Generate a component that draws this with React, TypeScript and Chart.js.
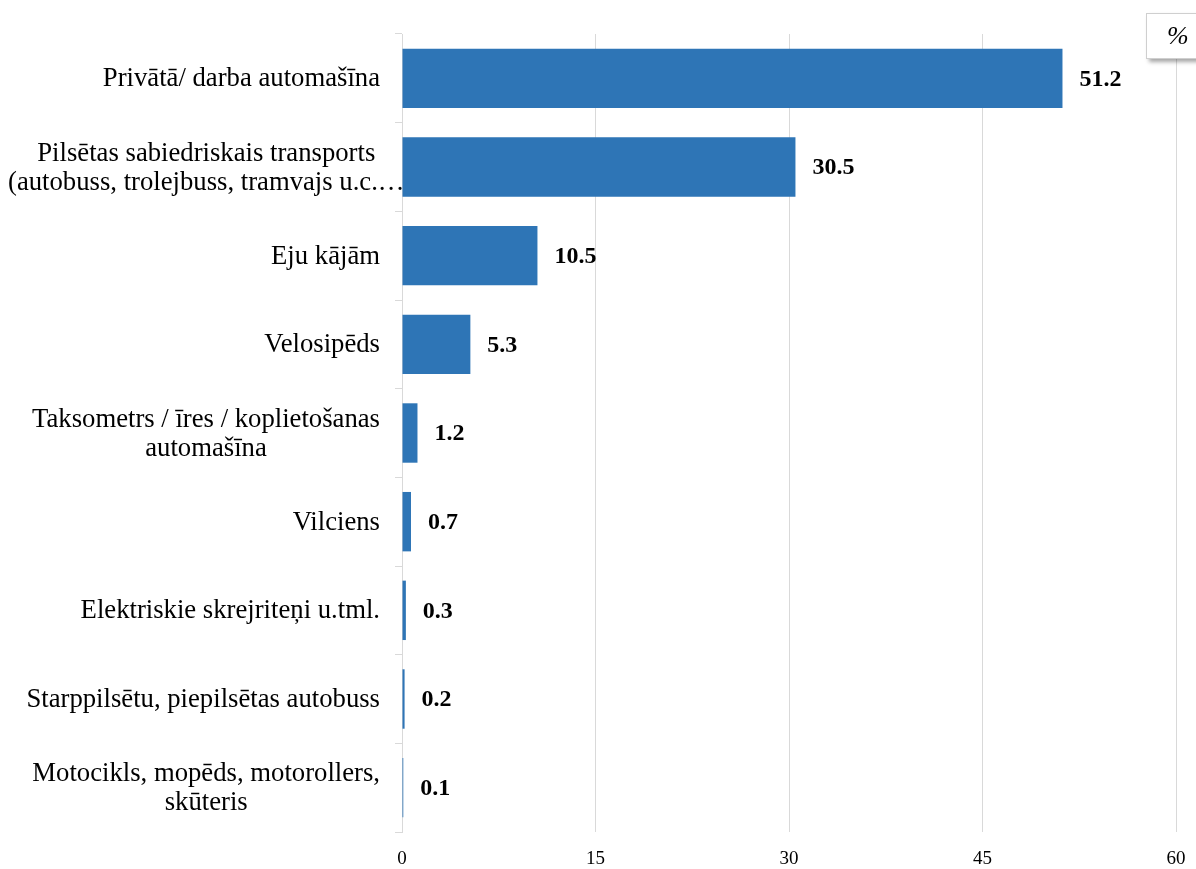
import React, { useEffect, useRef } from "react";
import { Chart, registerables } from "chart.js";

Chart.register(...registerables);

const categories: string[][] = [
  ["Privātā/ darba automašīna"],
  ["Pilsētas sabiedriskais transports", "(autobuss, trolejbuss, tramvajs u.c.…"],
  ["Eju kājām"],
  ["Velosipēds"],
  ["Taksometrs / īres / koplietošanas", "automašīna"],
  ["Vilciens"],
  ["Elektriskie skrejriteņi u.tml."],
  ["Starppilsētu, piepilsētas autobuss"],
  ["Motocikls, mopēds, motorollers,", "skūteris"],
];
const values = [51.2, 30.5, 10.5, 5.3, 1.2, 0.7, 0.3, 0.2, 0.1];
const xTicks = [0, 15, 30, 45, 60];

const SERIF = "'Liberation Serif', 'Times New Roman', serif";

const valueLabels = {
  id: "valueLabels",
  afterDatasetsDraw(chart: any) {
    const ctx = chart.ctx;
    const meta = chart.getDatasetMeta(0);
    ctx.save();
    ctx.font = `bold 24px ${SERIF}`;
    ctx.fillStyle = "#000";
    ctx.textAlign = "left";
    ctx.textBaseline = "middle";
    meta.data.forEach((bar: any, i: number) => {
      ctx.fillText(values[i].toFixed(1), bar.x + 17, bar.y + 1);
    });
    ctx.restore();
  },
};

const categoryLabels = {
  id: "categoryLabels",
  afterDraw(chart: any) {
    const ctx = chart.ctx;
    const yScale = chart.scales.y;
    const lineH = 29;
    const rightEdge = 380;
    const leftLimit = 8;
    ctx.save();
    ctx.font = `26.7px ${SERIF}`;
    ctx.fillStyle = "#000";
    ctx.textAlign = "center";
    ctx.textBaseline = "middle";
    categories.forEach((lines, i) => {
      const y = yScale.getPixelForValue(i);
      const w = Math.max(...lines.map((l) => ctx.measureText(l).width));
      const cx = Math.max(rightEdge - w / 2, leftLimit + w / 2);
      const y0 = y - ((lines.length - 1) * lineH) / 2;
      lines.forEach((l, k) => ctx.fillText(l, cx, y0 + k * lineH + 1));
    });
    ctx.restore();
  },
};

export default function App() {
  const ref = useRef<HTMLCanvasElement>(null);
  useEffect(() => {
    if (!ref.current) return;
    const chart = new Chart(ref.current, {
      type: "bar",
      data: {
        labels: categories.map((c) => c.join(" ")),
        datasets: [
          {
            data: values,
            backgroundColor: "#2E75B6",
            categoryPercentage: 1,
            barPercentage: 0.67,
          },
        ],
      },
      options: {
        indexAxis: "y",
        animation: false,
        responsive: false,
        maintainAspectRatio: false,
        layout: { padding: { top: 34, right: 20, left: 0, bottom: 0 } },
        plugins: { legend: { display: false }, tooltip: { enabled: false } },
        scales: {
          x: {
            min: 0,
            max: 60,
            afterBuildTicks: (axis: any) => {
              axis.ticks = xTicks.map((v) => ({ value: v }));
            },
            grid: { color: "#d9d9d9", drawTicks: false, lineWidth: 1 },
            border: { display: false },
            ticks: {
              color: "#000",
              font: { family: SERIF, size: 19 },
              padding: 16,
              maxRotation: 0,
            },
            afterFit: (axis: any) => {
              axis.height = 37;
              axis.paddingLeft = 0;
              axis.paddingRight = 0;
            },
          },
          y: {
            grid: {
              drawOnChartArea: false,
              drawTicks: true,
              tickLength: 7,
              color: "#d9d9d9",
              offset: true,
            },
            border: { display: true, color: "#d9d9d9" },
            ticks: { display: false, autoSkip: false },
            afterFit: (axis: any) => {
              axis.width = 402;
              axis.paddingTop = 0;
              axis.paddingBottom = 0;
            },
          },
        },
      },
      plugins: [valueLabels, categoryLabels],
    });
    return () => chart.destroy();
  }, []);
  return (
    <div style={{ position: "fixed", left: 0, top: 0, width: 1196, height: 869, background: "#fff" }}>
      <canvas ref={ref} width={1196} height={869} style={{ display: "block" }} />
      <div
        style={{
          position: "absolute",
          left: 1146,
          top: 13,
          width: 60,
          height: 46,
          background: "#fff",
          border: "1px solid #cfcfcf",
          boxShadow: "3px 3px 4px rgba(0,0,0,0.35)",
          fontFamily: SERIF,
          fontStyle: "italic",
          fontSize: 26,
          lineHeight: "44px",
          paddingLeft: 20,
          boxSizing: "border-box",
          color: "#000",
        }}
      >
        %
      </div>
    </div>
  );
}
